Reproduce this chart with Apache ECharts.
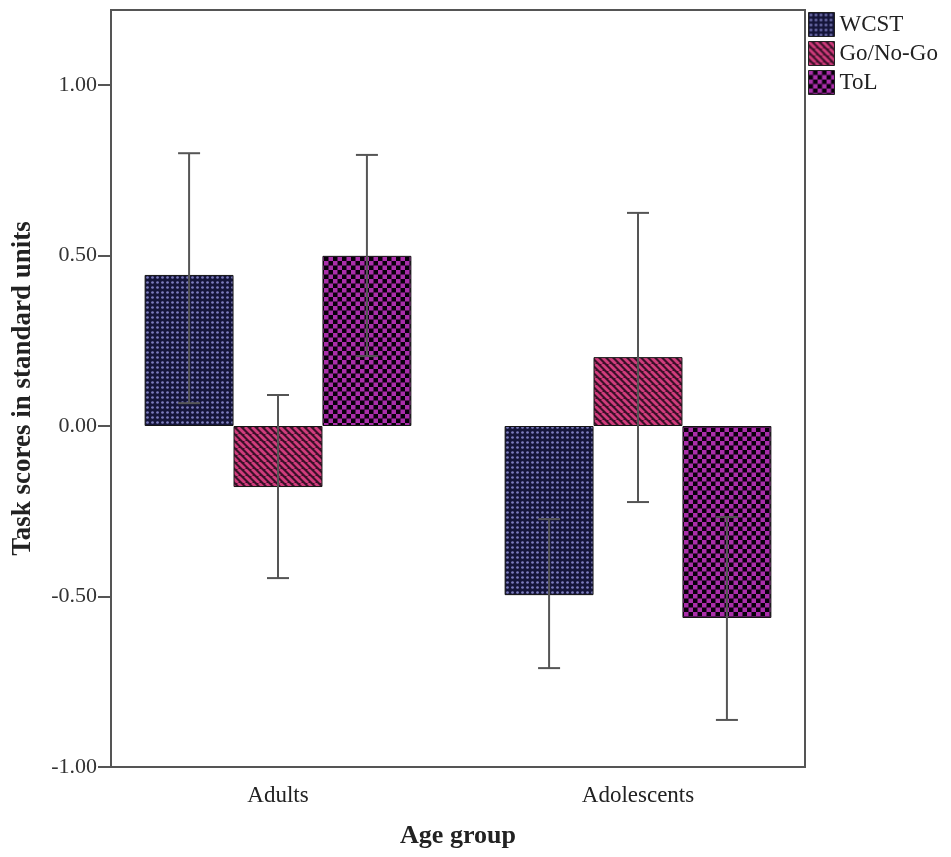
<!DOCTYPE html>
<html>
<head>
<meta charset="utf-8">
<script src="https://cdn.jsdelivr.net/npm/echarts@6/dist/echarts.min.js"></script>
<style>
  html, body { margin: 0; padding: 0; background: #ffffff; }
  #chart { width: 951px; height: 857px; }
</style>
</head>
<body>
<div id="chart"></div>
<script>
// Age groups and tasks
const groups = ['Adults', 'Adolescents'];
const tasks = ['WCST', 'Go/No-Go', 'ToL'];

// Mean task scores (standard units) per age group
const meanWCST = [0.443, -0.496];
const meanGoNoGo = [-0.179, 0.202];
const meanToL = [0.499, -0.563];

// Error bar ranges [low, high] per age group
const errWCST = [[0.067, 0.800], [-0.710, -0.273]];
const errGoNoGo = [[-0.446, 0.091], [-0.223, 0.625]];
const errToL = [[0.205, 0.795], [-0.862, -0.267]];

// Value axis ticks
const yTicks = [-1, -0.5, 0, 0.5, 1];
const yMin = -1;
const yMax = 1.22;

const SERIF = '"Liberation Serif", "Times New Roman", serif';
const BAR_FRAC = 0.247;   // bar width as a share of the category band

// ---- fill patterns ----
function makeTile(size, draw) {
  const c = document.createElement('canvas');
  c.width = size; c.height = size;
  draw(c.getContext('2d'), size);
  return { image: c, repeat: 'repeat' };
}
const dotFill = makeTile(5, (g, s) => {
  g.fillStyle = '#15153a'; g.fillRect(0, 0, s, s);
  g.fillStyle = '#7c7cbe';
  g.beginPath(); g.arc(2.5, 2.5, 1.35, 0, Math.PI * 2); g.fill();
});
const stripeFill = makeTile(7, (g, s) => {
  g.fillStyle = '#3a1028'; g.fillRect(0, 0, s, s);
  g.strokeStyle = '#d03c7c'; g.lineWidth = 2.8;
  for (let k = -s; k <= s; k += s) {
    g.beginPath(); g.moveTo(k, 0); g.lineTo(k + s, s); g.stroke();
  }
});
const checkFill = makeTile(9, (g, s) => {
  g.fillStyle = '#08000a'; g.fillRect(0, 0, s, s);
  g.fillStyle = '#aa2eaa';
  g.fillRect(0, 0, s / 2, s / 2);
  g.fillRect(s / 2, s / 2, s / 2, s / 2);
});

const means = [meanWCST, meanGoNoGo, meanToL];
const errs = [errWCST, errGoNoGo, errToL];
const fills = [dotFill, stripeFill, checkFill];

const barSeries = tasks.map((name, k) => ({
  name: name,
  type: 'bar',
  xAxisIndex: 1,
  yAxisIndex: 1,
  barWidth: (BAR_FRAC * 100) + '%',
  barGap: '0%',
  data: means[k],
  itemStyle: { color: fills[k], borderColor: '#151515', borderWidth: 1 },
  emphasis: { disabled: true },
  z: 2
}));

// error bar records: [groupIndex, taskIndex, low, high]
const errData = [];
errs.forEach((arr, k) => arr.forEach((r, i) => errData.push([i, k, r[0], r[1]])));

const errorSeries = {
  type: 'custom',
  xAxisIndex: 1,
  yAxisIndex: 1,
  z: 5,
  silent: true,
  encode: { x: 0, y: [2, 3] },
  data: errData,
  renderItem: function (params, api) {
    const cat = api.value(0);
    const k = api.value(1);
    const band = api.size([1, 0])[0];
    const x = api.coord([cat, 0])[0] + (k - 1) * band * BAR_FRAC;
    const yLo = api.coord([cat, api.value(2)])[1];
    const yHi = api.coord([cat, api.value(3)])[1];
    const cap = 11;
    const st = { stroke: '#555555', lineWidth: 2 };
    return {
      type: 'group',
      children: [
        { type: 'line', shape: { x1: x, y1: yLo, x2: x, y2: yHi }, style: st },
        { type: 'line', shape: { x1: x - cap, y1: yHi, x2: x + cap, y2: yHi }, style: st },
        { type: 'line', shape: { x1: x - cap, y1: yLo, x2: x + cap, y2: yLo }, style: st }
      ]
    };
  }
};

const chart = echarts.init(document.getElementById('chart'), null, { renderer: 'canvas' });
chart.setOption({
  animation: false,
  backgroundColor: '#ffffff',
  grid: [
    { left: 111, top: 10, width: 694, height: 757, show: true,
      borderColor: '#555555', borderWidth: 2, backgroundColor: 'transparent' },
    { left: 98, top: 10, width: 720, height: 757 }
  ],
  legend: {
    data: tasks,
    orient: 'vertical',
    left: 803,
    top: 7,
    icon: 'rect',
    itemWidth: 26,
    itemHeight: 24,
    itemGap: 4,
    itemStyle: { borderColor: '#222222', borderWidth: 1 },
    textStyle: { fontFamily: SERIF, fontSize: 23, color: '#222222', lineHeight: 24 }
  },
  xAxis: [
    { gridIndex: 0, type: 'value', show: false, min: 0, max: 1 },
    {
      gridIndex: 1,
      type: 'category',
      data: groups,
      axisLine: { show: false },
      axisTick: { show: true, alignWithLabel: true, length: 13,
        lineStyle: { color: '#555555', width: 2 } },
      axisLabel: { fontFamily: SERIF, fontSize: 23, color: '#222222', margin: 17 },
      name: 'Age group',
      nameLocation: 'middle',
      nameGap: 56,
      nameTextStyle: { fontFamily: SERIF, fontWeight: 'bold', fontSize: 26, color: '#222222' }
    }
  ],
  yAxis: [
    {
      gridIndex: 0,
      type: 'value',
      min: yMin,
      max: yMax,
      axisLine: { show: true, lineStyle: { color: '#555555', width: 2 } },
      axisTick: { show: true, length: 13, customValues: yTicks,
        lineStyle: { color: '#555555', width: 2 } },
      axisLabel: { customValues: yTicks, formatter: v => v.toFixed(2),
        fontFamily: SERIF, fontSize: 22, color: '#333333', margin: 14 },
      splitLine: { show: false },
      name: 'Task scores in standard units',
      nameLocation: 'middle',
      nameGap: 74,
      nameTextStyle: { fontFamily: SERIF, fontWeight: 'bold', fontSize: 27, color: '#222222' }
    },
    { gridIndex: 1, type: 'value', min: yMin, max: yMax, show: false }
  ],
  series: barSeries.concat([errorSeries])
});
</script>
</body>
</html>
